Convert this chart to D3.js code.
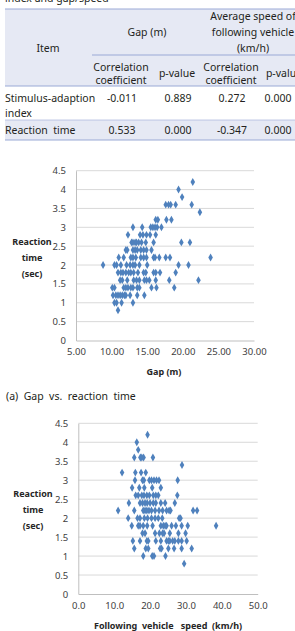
<!DOCTYPE html>
<html>
<head>
<meta charset="utf-8">
<script src="https://d3js.org/d3.v7.min.js"></script>
<style>
  body { margin: 0; background: #fff; }
  svg { display: block; }
</style>
</head>
<body>
<svg width="295" height="631"></svg>
<script>

// table content
const headGroups = ["Gap (m)", "Average speed of|following vehicle|(km/h)"];
const subHeads = ["Correlation|coefficient", "p-value", "Correlation|coefficient", "p-value"];
const rowLabels = ["Stimulus-adaption|index", "Reaction  time"];
const rowValues = [["-0.011", "0.889", "0.272", "0.000"],
                   ["0.533", "0.000", "-0.347", "0.000"]];

// scatter (a): gap (m) vs reaction time (sec)
const gapX = [21.4, 19.4, 19.9,
    17.6, 18.0, 18.3, 19.0, 21.25,
    22.4,
    16.2, 16.5, 17.7, 18.4,
    13.0, 14.3, 15.5, 15.8, 16.1, 16.4, 17.0,
    12.3, 14.0, 14.4, 14.9, 15.4, 16.2,
    12.8, 13.0, 13.3, 13.5, 13.8, 14.2, 14.8, 15.9, 19.8, 21.0,
    12.0, 12.2, 13.0, 13.3, 13.6, 14.1, 14.5, 14.9, 15.6,
    11.0, 11.7, 12.7, 13.0, 13.4, 14.1, 14.5, 14.9, 15.9, 16.1, 16.7, 17.6, 18.2, 23.9,
    8.8, 10.4, 10.7, 11.3, 12.1, 12.6, 13.0, 13.3, 13.9, 15.0, 19.4, 20.8,
    10.9, 11.3, 11.6, 12.0, 12.4, 12.7, 13.1, 13.7, 14.5, 14.8, 15.9, 16.2, 16.8, 19.0,
    11.2, 11.5, 12.2, 13.1, 13.5, 13.9, 14.6, 14.9, 15.3, 16.2, 18.1, 22.2,
    10.1, 10.4, 11.7, 12.0, 12.3, 12.7, 13.0, 13.6, 13.9, 15.6, 16.3, 18.8,
    10.2, 10.6, 10.9, 11.2, 11.5, 11.8, 12.0, 12.6, 13.6, 14.6,
    10.4, 10.7, 11.4, 13.0,
    10.9];
const gapY = [4.2, 4.0, 3.8,
    3.6, 3.6, 3.6, 3.6, 3.6,
    3.4,
    3.2, 3.2, 3.2, 3.2,
    3.0, 3.0, 3.0, 3.0, 3.0, 3.0, 3.0,
    2.8, 2.8, 2.8, 2.8, 2.8, 2.8,
    2.6, 2.6, 2.6, 2.6, 2.6, 2.6, 2.6, 2.6, 2.6, 2.6,
    2.4, 2.4, 2.4, 2.4, 2.4, 2.4, 2.4, 2.4, 2.4,
    2.2, 2.2, 2.2, 2.2, 2.2, 2.2, 2.2, 2.2, 2.2, 2.2, 2.2, 2.2, 2.2, 2.2,
    2.0, 2.0, 2.0, 2.0, 2.0, 2.0, 2.0, 2.0, 2.0, 2.0, 2.0, 2.0,
    1.8, 1.8, 1.8, 1.8, 1.8, 1.8, 1.8, 1.8, 1.8, 1.8, 1.8, 1.8, 1.8, 1.8,
    1.6, 1.6, 1.6, 1.6, 1.6, 1.6, 1.6, 1.6, 1.6, 1.6, 1.6, 1.6,
    1.4, 1.4, 1.4, 1.4, 1.4, 1.4, 1.4, 1.4, 1.4, 1.4, 1.4, 1.4,
    1.2, 1.2, 1.2, 1.2, 1.2, 1.2, 1.2, 1.2, 1.2, 1.2,
    1.0, 1.0, 1.0, 1.0,
    0.8];

// scatter (b): following vehicle speed (km/h) vs reaction time (sec)
const speedX = [19.3, 16.3, 16.7,
    15.6, 17.3, 17.7, 18.2, 20.8,
    28.9,
    12.2, 15.9, 17.5, 18.8,
    15.8, 17.9, 18.3, 19.8, 20.4, 21.1, 21.8, 22.5, 27.7,
    15.0, 17.0, 18.4, 20.6, 23.0,
    16.0, 16.7, 17.7, 18.3, 19.1, 19.8, 20.9, 21.6, 22.3, 27.6,
    14.1, 17.2, 17.9, 18.6, 19.2, 20.0, 20.9, 21.6, 23.0, 24.2, 26.9,
    11.1, 15.6, 18.1, 18.6, 19.1, 19.7, 20.4, 21.4, 22.5, 23.5, 24.6, 25.3, 25.7, 32.0, 33.1,
    13.9, 16.5, 17.2, 18.4, 19.3, 20.4, 21.4, 22.3, 23.4, 28.1, 28.5,
    14.9, 16.7, 17.2, 18.1, 19.2, 20.7, 23.0, 23.7, 24.2, 24.6, 26.0, 27.2, 28.8, 30.5, 38.4,
    17.9, 18.6, 21.4, 22.6, 23.5, 23.9, 25.5, 27.9, 29.9,
    15.2, 17.2, 19.1, 19.5, 21.6, 23.0, 24.6, 25.1, 25.5, 26.3, 26.9, 27.9, 28.8, 30.2,
    15.6, 18.8, 19.5, 22.8, 23.2, 25.1, 26.7, 28.8, 31.6,
    18.1, 20.6, 21.1, 24.3,
    29.5];
const speedY = [4.2, 4.0, 3.8,
    3.6, 3.6, 3.6, 3.6, 3.6,
    3.4,
    3.2, 3.2, 3.2, 3.2,
    3.0, 3.0, 3.0, 3.0, 3.0, 3.0, 3.0, 3.0, 3.0,
    2.8, 2.8, 2.8, 2.8, 2.8,
    2.6, 2.6, 2.6, 2.6, 2.6, 2.6, 2.6, 2.6, 2.6, 2.6,
    2.4, 2.4, 2.4, 2.4, 2.4, 2.4, 2.4, 2.4, 2.4, 2.4, 2.4,
    2.2, 2.2, 2.2, 2.2, 2.2, 2.2, 2.2, 2.2, 2.2, 2.2, 2.2, 2.2, 2.2, 2.2, 2.2,
    2.0, 2.0, 2.0, 2.0, 2.0, 2.0, 2.0, 2.0, 2.0, 2.0, 2.0,
    1.8, 1.8, 1.8, 1.8, 1.8, 1.8, 1.8, 1.8, 1.8, 1.8, 1.8, 1.8, 1.8, 1.8, 1.8,
    1.6, 1.6, 1.6, 1.6, 1.6, 1.6, 1.6, 1.6, 1.6,
    1.4, 1.4, 1.4, 1.4, 1.4, 1.4, 1.4, 1.4, 1.4, 1.4, 1.4, 1.4, 1.4, 1.4,
    1.2, 1.2, 1.2, 1.2, 1.2, 1.2, 1.2, 1.2, 1.2,
    1.0, 1.0, 1.0, 1.0,
    0.8];

const yTicks = [0, 0.5, 1, 1.5, 2, 2.5, 3, 3.5, 4, 4.5];
const gapTicks = [5, 10, 15, 20, 25, 30];
const speedTicks = [0, 10, 20, 30, 40, 50];

const svg = d3.select("svg");
const tableFont = "'Noto Sans', 'DejaVu Sans', sans-serif";
const lineCol = "#9aa9d6", shade = "#e6e9f4", ink = "#231f20";
const tSize = "10.5px ";

// ---- table ----
const tbl = svg.append("g");
tbl.append("text").attr("x", 5).attr("y", 2)
    .style("font", tSize + tableFont).attr("fill", ink)
    .text("index and gap/speed");

tbl.append("rect").attr("x", 5).attr("y", 9).attr("width", 290).attr("height", 77).attr("fill", shade);
tbl.append("rect").attr("x", 5).attr("y", 120).attr("width", 290).attr("height", 20).attr("fill", shade);
[[5, 9], [92, 55], [5, 86], [5, 120], [5, 140]].forEach(([x0, y]) => {
    tbl.append("line").attr("x1", x0).attr("x2", 295).attr("y1", y).attr("y2", y)
        .attr("stroke", lineCol).attr("stroke-width", y === 120 ? 0.6 : 1);
});

const colX = [121, 177, 231, 284];
function multi(x, yMid, str, anchor, lh) {
    const parts = str.split("|");
    const y0 = yMid - (parts.length - 1) * lh / 2;
    parts.forEach((p, i) => {
        tbl.append("text").attr("x", x).attr("y", y0 + i * lh)
            .attr("dominant-baseline", "central")
            .attr("text-anchor", anchor)
            .style("font", tSize + tableFont).attr("fill", ink)
            .text(p);
    });
}
multi(48, 48, "Item", "middle", 15);
multi(147, 32, headGroups[0], "middle", 16);
multi(253, 32, headGroups[1], "middle", 16);
subHeads.forEach((s, i) => multi(colX[i], 73, s, "middle", 13));
const rowY = [98, 130];
rowLabels.forEach((s, r) => {
    const parts = s.split("|");
    parts.forEach((p, i) => {
        tbl.append("text").attr("x", 5).attr("y", rowY[r] + i * 15)
            .attr("dominant-baseline", "central")
            .style("font", tSize + tableFont).attr("fill", ink)
            .style("white-space", "pre")
            .text(p);
    });
    rowValues[r].forEach((v, i) => {
        tbl.append("text").attr("x", colX[i] + (i === 3 ? -6 : 1)).attr("y", rowY[r])
            .attr("dominant-baseline", "central").attr("text-anchor", "middle")
            .style("font", tSize + tableFont).attr("fill", ink)
            .text(v);
    });
});

// ---- scatter helper ----
const chartFont = "'Noto Sans', 'DejaVu Sans', sans-serif";
function scatter(opt) {
    const x = d3.scaleLinear().domain(opt.xDomain).range([opt.left, opt.right]);
    const y = d3.scaleLinear().domain([0, 4.5]).range([opt.bottom, opt.top]);
    const g = svg.append("g");

    g.selectAll(".grid").data(yTicks.slice(1)).enter().append("line")
        .attr("x1", opt.left).attr("x2", opt.right)
        .attr("y1", d => y(d)).attr("y2", d => y(d))
        .attr("stroke", "#d9d9d9").attr("stroke-width", 1);

    const yAxis = g.append("g").attr("transform", `translate(${opt.left},0)`)
        .call(d3.axisLeft(y).tickValues(yTicks).tickSize(0).tickPadding(10).tickFormat(d3.format("")));
    const xAxis = g.append("g").attr("transform", `translate(0,${opt.bottom})`)
        .call(d3.axisBottom(x).tickValues(opt.ticks).tickSize(0).tickPadding(8).tickFormat(opt.fmt));
    [yAxis, xAxis].forEach(a => {
        a.select(".domain").attr("stroke", "#bfbfbf");
        a.selectAll("text").style("font", "9.5px " + chartFont).attr("fill", "#404040");
    });

    const sym = d3.symbol().type(d3.symbolDiamond).size(18);
    g.selectAll(".pt").data(opt.xs.map((v, i) => [v, opt.ys[i]])).enter().append("path")
        .attr("d", sym)
        .attr("transform", d => `translate(${x(d[0])},${y(d[1])})`)
        .attr("fill", "#4f81bd");

    ["Reaction", "time", "(sec)"].forEach((t, i) => {
        g.append("text").attr("x", opt.titleX).attr("y", opt.titleY + i * 16)
            .attr("text-anchor", "middle").attr("dominant-baseline", "central")
            .style("font", "bold 9px " + chartFont).attr("fill", "#262626").text(t);
    });
    g.append("text").attr("x", opt.titleCx).attr("y", opt.bottom + 31)
        .attr("text-anchor", "middle").attr("dominant-baseline", "central")
        .style("font", "bold 9px " + chartFont).style("white-space", "pre")
        .attr("fill", "#262626").text(opt.xTitle);
}

scatter({
    xs: gapX, ys: gapY, xDomain: [5, 30], ticks: gapTicks, fmt: d3.format(".2f"),
    left: 76, right: 254, top: 170.7, bottom: 340.5,
    titleX: 32, titleY: 241, xTitle: "Gap (m)", titleCx: 164
});

svg.append("text").attr("x", 6).attr("y", 396).attr("dominant-baseline", "central")
    .style("font", tSize + tableFont).style("white-space", "pre").attr("fill", ink)
    .text("(a)  Gap  vs.  reaction  time");

scatter({
    xs: speedX, ys: speedY, xDomain: [0, 50], ticks: speedTicks, fmt: d3.format(".1f"),
    left: 78.3, right: 257.7, top: 423.3, bottom: 594,
    titleX: 33, titleY: 493, xTitle: "Following  vehicle   speed  (km/h)", titleCx: 168
});

</script>
</body>
</html>
